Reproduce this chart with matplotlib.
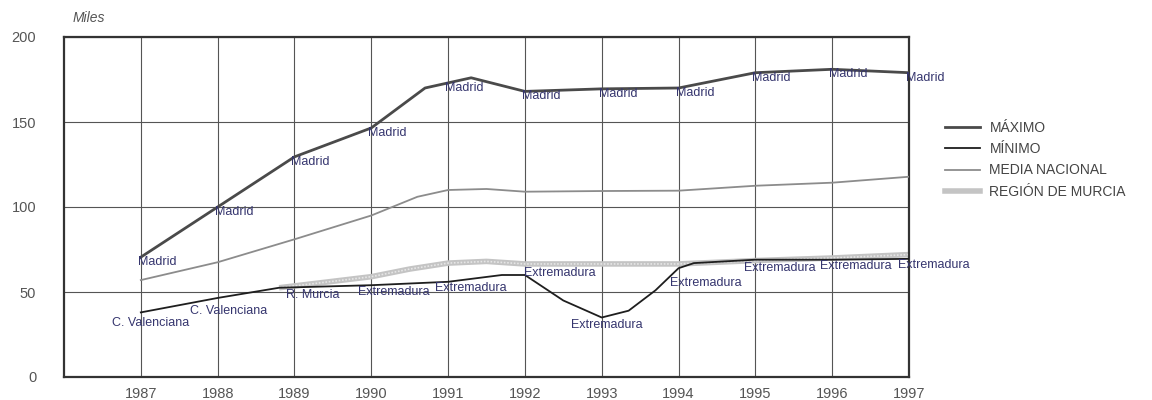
import numpy as np
import matplotlib
matplotlib.use("Agg")
import matplotlib.pyplot as plt
from matplotlib.lines import Line2D

plt.rcParams["font.family"] = ["Liberation Sans", "DejaVu Sans"]

# --- data (miles) ---
years = list(range(1987, 1998))

max_years = [1987, 1988, 1989, 1990, 1990.7, 1991, 1991.3, 1992, 1993, 1994, 1995, 1996, 1997]
max_vals = [70.5, 100, 129.5, 146.5, 170, 173, 176, 168, 169.5, 170, 179, 181, 179]

min_years = [1987, 1988, 1988.8, 1990, 1991, 1991.7, 1992, 1992.5, 1993, 1993.35, 1993.7,
             1994, 1994.2, 1995, 1996, 1997]
min_vals = [38, 46.5, 52.5, 54, 56, 60, 60, 45, 35, 39, 51, 64, 67, 69, 69, 69.5]

media_years = [1987, 1988, 1989, 1990, 1990.6, 1991, 1991.5, 1992, 1993, 1994, 1995, 1996, 1997]
media_vals = [57, 67.5, 81, 95, 106, 110, 110.6, 109, 109.4, 109.6, 112.5, 114.3, 117.8]

murcia_years = [1988.8, 1990, 1990.5, 1991, 1991.5, 1992, 1993, 1994, 1995, 1996, 1997]
murcia_vals = [52.5, 59, 63.5, 67, 68, 66.5, 66.5, 66.5, 68.5, 70, 72]

max_labels = ["Madrid"] * 11
min_labels = ["C. Valenciana", "C. Valenciana", "R. Murcia"] + ["Extremadura"] * 8

legend_labels = ["MÁXIMO", "MÍNIMO", "MEDIA NACIONAL", "REGIÓN DE MURCIA"]

# --- styles ---
c_max = "#4a4a4a"
c_min = "#1e1e1e"
c_media = "#8c8c8c"
c_murcia = "#c4c4c4"
c_text = "#35356e"
c_tick = "#555555"

fig = plt.figure(figsize=(11.52, 4), dpi=100)
ax = fig.add_axes([64 / 1152, 23 / 400, 845 / 1152, 340 / 400])

ax.plot(murcia_years, murcia_vals, color=c_murcia, lw=4, solid_capstyle="butt", zorder=2)
ax.plot(murcia_years, murcia_vals, color="#e6e6e6", lw=1.2, ls=(0, (1, 1)), zorder=2)
ax.plot(media_years, media_vals, color=c_media, lw=1.3, zorder=3)
ax.plot(min_years, min_vals, color=c_min, lw=1.3, zorder=4)
ax.plot(max_years, max_vals, color=c_max, lw=2.0, zorder=4)

ax.set_xlim(1986, 1997)
ax.set_ylim(0, 200)
ax.set_xticks(years)
ax.set_yticks([0, 50, 100, 150, 200])
ax.grid(True, color="#555555", lw=0.8)
ax.set_axisbelow(True)
ax.tick_params(length=0, labelcolor=c_tick, labelsize=10.5)
ax.tick_params(axis="x", pad=7)
ax.tick_params(axis="y", pad=20)
for side in ["left", "bottom", "top", "right"]:
    ax.spines[side].set_color("#333333")
    ax.spines[side].set_linewidth(1.6)

# labels on the lines
max_at = np.interp(years, max_years, max_vals)
for yr, v, txt in zip(years, max_at, max_labels):
    ax.annotate(txt, (yr, v), xytext=(-3, -5), textcoords="offset pixels",
                ha="left", va="center", fontsize=9, color=c_text, zorder=6)

min_at = np.interp(years, min_years, min_vals)
min_offsets = [(10, -11), (11, -13), (18, -8), (23, -7), (23, -6), (35, 2),
               (5, -7), (27, -15), (24, -8), (24, -6), (25, -6)]
for yr, v, txt, off in zip(years, min_at, min_labels, min_offsets):
    ax.annotate(txt, (yr, v), xytext=off, textcoords="offset pixels",
                ha="center", va="center", fontsize=9, color=c_text, zorder=6)

fig.text(73 / 1152, 1 - 18 / 400, "Miles", fontsize=10, style="italic", color=c_tick,
         va="center")

handles = [
    Line2D([], [], color=c_max, lw=2.0),
    Line2D([], [], color=c_min, lw=1.3),
    Line2D([], [], color=c_media, lw=1.3),
    Line2D([], [], color=c_murcia, lw=4),
]
leg = fig.legend(handles, legend_labels, loc="upper left",
                 bbox_to_anchor=(938 / 1152, 1 - 114 / 400), frameon=False,
                 handlelength=2.5, handletextpad=0.7, labelspacing=0.52,
                 borderpad=0, prop={"size": 10})
for t in leg.get_texts():
    t.set_color("#444444")

fig.savefig("out.png", dpi=100)
